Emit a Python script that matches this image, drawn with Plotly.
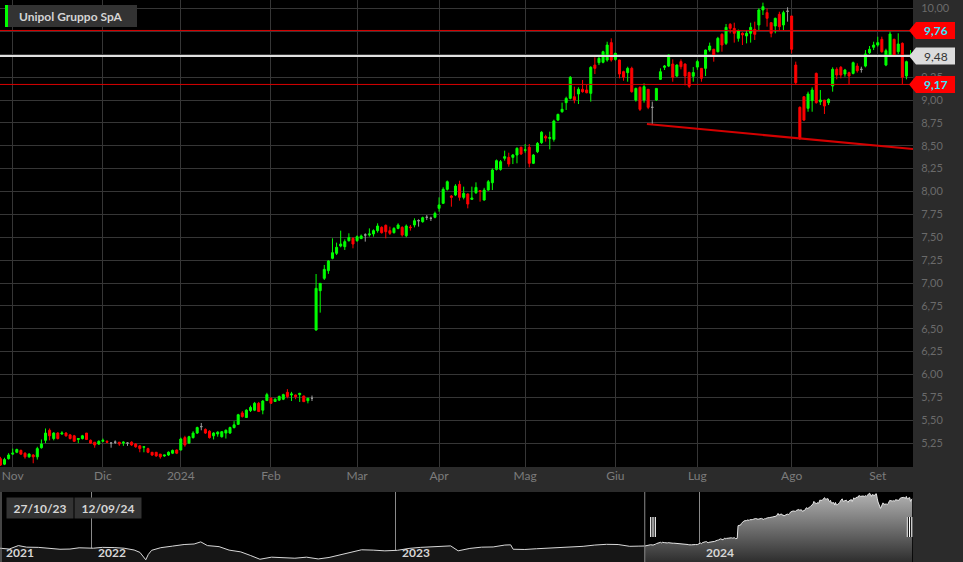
import numpy as np
import pandas as pd
import plotly.graph_objects as go

# ---------------- data ----------------
TITLE = "Unipol Gruppo SpA"
HOLIDAYS = ["2023-12-25", "2023-12-26", "2024-01-01", "2024-03-29",
            "2024-04-01", "2024-05-01", "2024-08-15"]
FIRST_DAY, LAST_DAY = "2023-10-27", "2024-09-12"

open_ = [
    5.08, 5.02, 5.08, 5.13, 5.15, 5.17, 5.14, 5.10, 5.12, 5.10,
    5.20, 5.28, 5.39, 5.30, 5.36, 5.35, 5.36, 5.34, 5.33, 5.29,
    5.30, 5.36, 5.28, 5.26, 5.24, 5.27, 5.27, 5.25, 5.26, 5.26,
    5.25, 5.25, 5.26, 5.24, 5.22, 5.205, 5.19, 5.15, 5.15, 5.13,
    5.11, 5.12, 5.14, 5.175, 5.175, 5.31, 5.25, 5.31, 5.36, 5.43,
    5.40, 5.38, 5.33, 5.35, 5.32, 5.36, 5.36, 5.42, 5.455, 5.58,
    5.53, 5.605, 5.61, 5.685, 5.61, 5.715, 5.74, 5.705, 5.72, 5.73,
    5.805, 5.776, 5.776, 5.78, 5.765, 5.714, 5.74,
    6.486, 6.916, 7.051,
    7.135, 7.270, 7.324, 7.404, 7.397, 7.463, 7.488, 7.463, 7.485, 7.525,
    7.525, 7.536, 7.572, 7.608, 7.630, 7.572, 7.550, 7.597, 7.608, 7.517,
    7.612, 7.634, 7.681, 7.670, 7.718, 7.707, 7.718, 7.816, 7.871, 8.024,
    7.951, 7.962, 8.078, 7.936, 7.973, 7.914, 7.987, 8.009, 7.907, 8.016,
    8.096, 8.242, 8.242, 8.363, 8.373, 8.373, 8.399, 8.483, 8.45, 8.483,
    8.308, 8.435, 8.534, 8.60, 8.58, 8.570, 8.781, 8.872, 8.971, 9.018,
    9.036, 9.066, 9.117, 9.109, 9.073, 9.382, 9.408, 9.412, 9.437, 9.627,
    9.444, 9.437, 9.31, 9.299, 9.346, 8.999, 9.138, 9.0, 9.117, 8.92,
    9.0, 9.226, 9.357, 9.371, 9.393, 9.262, 9.419, 9.393, 9.30, 9.26,
    9.36, 9.346, 9.346, 9.546, 9.554, 9.528, 9.718, 9.619, 9.827, 9.783,
    9.674, 9.729, 9.700, 9.729, 9.772, 9.820, 9.984, 9.955, 9.845, 9.809,
    9.936, 9.820, 9.97, 9.918, 9.382, 8.920, 9.036, 8.909, 8.993, 9.291,
    8.98, 8.999, 8.971, 9.153, 9.335, 9.357, 9.284, 9.299, 9.291, 9.371,
    9.335, 9.371, 9.517, 9.576, 9.601, 9.663, 9.382, 9.481, 9.663, 9.528,
    9.619, 9.262, 9.475,
]
high = [
    5.10, 5.09, 5.14, 5.19, 5.19, 5.18, 5.15, 5.14, 5.13, 5.21,
    5.29, 5.41, 5.41, 5.37, 5.37, 5.38, 5.37, 5.35, 5.34, 5.30,
    5.34, 5.36, 5.29, 5.26, 5.28, 5.30, 5.28, 5.26, 5.28, 5.26,
    5.27, 5.26, 5.27, 5.25, 5.23, 5.21, 5.20, 5.15, 5.15, 5.13,
    5.12, 5.16, 5.18, 5.18, 5.31, 5.33, 5.33, 5.38, 5.43, 5.47,
    5.41, 5.39, 5.37, 5.38, 5.38, 5.40, 5.43, 5.49, 5.57, 5.60,
    5.62, 5.66, 5.70, 5.70, 5.72, 5.80, 5.75, 5.74, 5.77, 5.79,
    5.84, 5.81, 5.78, 5.80, 5.77, 5.745, 5.77,
    7.098, 7.00, 7.197,
    7.25, 7.488, 7.441, 7.572, 7.477, 7.543, 7.50, 7.52, 7.53, 7.543,
    7.597, 7.586, 7.652, 7.62, 7.64, 7.616, 7.61, 7.652, 7.62, 7.64,
    7.634, 7.707, 7.696, 7.725, 7.743, 7.725, 7.780, 7.936, 8.046, 8.12,
    7.962, 8.08, 8.118, 8.053, 7.98, 8.053, 8.100, 8.016, 8.04, 8.126,
    8.253, 8.35, 8.344, 8.446, 8.424, 8.410, 8.483, 8.49, 8.519, 8.519,
    8.41, 8.54, 8.66, 8.62, 8.654, 8.785, 8.85, 8.971, 9.036, 9.262,
    9.146, 9.139, 9.219, 9.164, 9.37, 9.466, 9.492, 9.539, 9.637, 9.674,
    9.517, 9.44, 9.32, 9.364, 9.364, 9.135, 9.15, 9.182, 9.12, 8.982,
    9.13, 9.346, 9.382, 9.50, 9.444, 9.39, 9.444, 9.40, 9.31, 9.36,
    9.44, 9.35, 9.55, 9.627, 9.56, 9.69, 9.73, 9.831, 9.84, 9.845,
    9.77, 9.74, 9.765, 9.845, 9.856, 10.002, 10.064, 10.002, 9.85, 9.90,
    9.965, 9.976, 10.013, 9.92, 9.419, 8.93, 9.04, 9.091, 9.138, 9.30,
    9.109, 9.0, 9.018, 9.357, 9.357, 9.371, 9.34, 9.31, 9.42, 9.401,
    9.364, 9.546, 9.590, 9.637, 9.692, 9.692, 9.56, 9.747, 9.67, 9.729,
    9.63, 9.43, 9.546,
]
low = [
    5.00, 5.01, 5.07, 5.12, 5.14, 5.12, 5.08, 5.09, 5.03, 5.07,
    5.19, 5.25, 5.28, 5.28, 5.29, 5.34, 5.32, 5.29, 5.265, 5.25,
    5.29, 5.285, 5.24, 5.20, 5.23, 5.26, 5.25, 5.20, 5.24, 5.22,
    5.22, 5.22, 5.22, 5.20, 5.15, 5.15, 5.14, 5.11, 5.10, 5.08,
    5.10, 5.11, 5.13, 5.13, 5.17, 5.21, 5.24, 5.30, 5.35, 5.39,
    5.35, 5.30, 5.29, 5.32, 5.31, 5.30, 5.35, 5.41, 5.45, 5.53,
    5.53, 5.59, 5.60, 5.59, 5.565, 5.71, 5.68, 5.70, 5.71, 5.72,
    5.74, 5.71, 5.73, 5.70, 5.70, 5.685, 5.71,
    6.479, 6.676, 7.033,
    7.10, 7.259, 7.306, 7.390, 7.361, 7.452, 7.379, 7.45, 7.48, 7.452,
    7.507, 7.507, 7.550, 7.54, 7.488, 7.525, 7.54, 7.587, 7.507, 7.50,
    7.572, 7.608, 7.616, 7.659, 7.688, 7.678, 7.707, 7.780, 7.863, 8.01,
    7.834, 7.95, 7.900, 7.914, 7.816, 7.907, 7.973, 7.889, 7.90, 8.009,
    8.016, 8.23, 8.228, 8.337, 8.271, 8.300, 8.308, 8.40, 8.424, 8.264,
    8.30, 8.42, 8.52, 8.545, 8.461, 8.545, 8.77, 8.861, 8.891, 9.007,
    8.964, 8.956, 9.080, 9.073, 8.982, 9.284, 9.382, 9.401, 9.419, 9.419,
    9.430, 9.237, 9.21, 9.200, 9.080, 8.982, 8.88, 8.971, 8.90, 8.737,
    8.99, 9.219, 9.328, 9.36, 9.200, 9.25, 9.335, 9.160, 9.13, 9.20,
    9.33, 9.20, 9.262, 9.528, 9.419, 9.52, 9.528, 9.601, 9.729, 9.627,
    9.638, 9.601, 9.619, 9.627, 9.656, 9.765, 9.929, 9.802, 9.685, 9.729,
    9.765, 9.758, 9.856, 9.510, 9.164, 8.563, 8.77, 8.872, 8.872, 8.96,
    8.945, 8.847, 8.945, 9.091, 9.226, 9.237, 9.255, 9.175, 9.28, 9.299,
    9.299, 9.357, 9.503, 9.546, 9.583, 9.517, 9.37, 9.474, 9.47, 9.503,
    9.175, 9.226, 9.47,
]
close = [
    5.01, 5.07, 5.12, 5.14, 5.18, 5.13, 5.10, 5.13, 5.10, 5.19,
    5.24, 5.36, 5.33, 5.36, 5.30, 5.36, 5.33, 5.30, 5.27, 5.30,
    5.33, 5.29, 5.25, 5.23, 5.27, 5.28, 5.26, 5.25, 5.26, 5.24,
    5.26, 5.25, 5.23, 5.21, 5.19, 5.21, 5.15, 5.12, 5.11, 5.10,
    5.12, 5.15, 5.17, 5.14, 5.295, 5.23, 5.32, 5.36, 5.42, 5.43,
    5.36, 5.31, 5.36, 5.37, 5.375, 5.39, 5.42, 5.45, 5.56, 5.54,
    5.61, 5.64, 5.685, 5.595, 5.71, 5.78, 5.685, 5.73, 5.76, 5.78,
    5.76, 5.787, 5.758, 5.794, 5.703, 5.74, 5.74,
    6.942, 6.996, 7.149,
    7.240, 7.331, 7.390, 7.426, 7.452, 7.496, 7.426, 7.506, 7.514, 7.525,
    7.536, 7.572, 7.623, 7.550, 7.561, 7.543, 7.597, 7.634, 7.525, 7.623,
    7.605, 7.681, 7.681, 7.714, 7.718, 7.707, 7.761, 7.853, 8.024, 8.107,
    7.936, 8.060, 7.936, 7.980, 7.863, 7.929, 8.045, 8.000, 8.016, 8.107,
    8.235, 8.337, 8.326, 8.381, 8.300, 8.399, 8.472, 8.410, 8.455, 8.308,
    8.399, 8.526, 8.647, 8.585, 8.59, 8.770, 8.843, 8.898, 9.018, 9.248,
    9.0, 9.117, 9.091, 9.080, 9.357, 9.346, 9.455, 9.528, 9.601, 9.437,
    9.510, 9.284, 9.25, 9.346, 9.091, 9.127, 8.898, 9.146, 8.920, 8.92,
    9.127, 9.309, 9.371, 9.492, 9.248, 9.382, 9.364, 9.262, 9.15, 9.30,
    9.42, 9.237, 9.546, 9.590, 9.492, 9.674, 9.601, 9.794, 9.783, 9.729,
    9.758, 9.711, 9.729, 9.794, 9.718, 9.984, 10.020, 9.893, 9.729, 9.893,
    9.802, 9.955, 9.97, 9.554, 9.189, 8.581, 8.781, 9.066, 9.109, 8.971,
    9.0, 8.934, 9.007, 9.335, 9.273, 9.273, 9.328, 9.262, 9.408, 9.320,
    9.335, 9.503, 9.554, 9.601, 9.627, 9.528, 9.539, 9.721, 9.481, 9.612,
    9.248, 9.419, 9.48,
]

month_labels = ["Nov", "Dic", "2024", "Feb", "Mar", "Apr", "Mag", "Giu", "Lug", "Ago", "Set"]
y_ticks = [5.25, 5.50, 5.75, 6.00, 6.25, 6.50, 6.75, 7.00, 7.25, 7.50,
           7.75, 8.00, 8.25, 8.50, 8.75, 9.00, 9.25, 9.50, 9.75, 10.00]

level_high = 9.76
level_low = 9.17
last_price = 9.48
trend_line = [(157.7, 8.737), (222.6, 8.464)]   # (trading-day position, price)

# navigator history (before the selected window)
nav_hist_dates = [
    "2021-09-13", "2021-09-24", "2021-10-05", "2021-10-15", "2021-10-29", "2021-11-10",
    "2021-11-24", "2021-12-06", "2021-12-17", "2022-01-03", "2022-01-14", "2022-01-28",
    "2022-02-09", "2022-02-21", "2022-02-28", "2022-03-07", "2022-03-10", "2022-03-14",
    "2022-03-25", "2022-04-08", "2022-04-22", "2022-05-04", "2022-05-12", "2022-05-20",
    "2022-06-03", "2022-06-15", "2022-06-29", "2022-07-11", "2022-07-22", "2022-08-05",
    "2022-08-19", "2022-09-02", "2022-09-16", "2022-09-30", "2022-10-13", "2022-10-28",
    "2022-11-09", "2022-11-21", "2022-12-05", "2022-12-19", "2023-01-03", "2023-01-17",
    "2023-01-31", "2023-02-14", "2023-02-28", "2023-03-08", "2023-03-17", "2023-03-31",
    "2023-04-14", "2023-04-28", "2023-05-12", "2023-05-19", "2023-05-22", "2023-06-05",
    "2023-06-19", "2023-07-03", "2023-07-17", "2023-07-31", "2023-08-14", "2023-08-28",
    "2023-09-11", "2023-09-25", "2023-10-09", "2023-10-20", "2023-10-26",
]
nav_hist_values = [
    4.80, 4.72, 5.05, 4.90, 4.88, 4.82,
    4.70, 4.72, 4.84, 4.80, 4.88, 4.86,
    4.80, 4.63, 4.40, 3.70, 4.20, 4.60,
    4.85, 5.00, 5.15, 5.20, 5.40, 5.05,
    4.95, 4.62, 4.45, 4.10, 3.75, 3.95,
    3.92, 3.85, 3.95, 3.78, 3.92, 4.20,
    4.47, 4.65, 4.62, 4.55, 4.60, 4.78,
    4.88, 4.92, 5.00, 5.02, 4.55, 4.78,
    4.90, 4.92, 5.10, 5.12, 4.70, 4.68,
    4.75, 4.80, 4.88, 4.92, 4.98, 5.10,
    5.17, 5.15, 4.98, 5.00, 5.05,
]
nav_years = ["2021", "2022", "2023", "2024"]
nav_year_starts = ["2022-01-01", "2023-01-01", "2024-01-01"]
NAV_RANGE = ["2021-09-13", "2024-09-13"]

# ---------------- build ----------------
days = pd.bdate_range(FIRST_DAY, LAST_DAY)
days = days[~days.isin(pd.to_datetime(HOLIDAYS))]
dates = [d.strftime("%Y-%m-%d") for d in days][:len(close)]

o = np.array(open_); h = np.array(high); l = np.array(low); c = np.array(close)

month_first, seen = [], set()
for d in dates:
    if d[:7] not in seen:
        seen.add(d[:7]); month_first.append(d)
month_first = month_first[1:]

W, H = 963, 562
PLOT_R, PLOT_B, NAV_T = 913, 467, 492
def px(x): return x / W
def py(y): return 1 - y / H

GREEN, RED, GRAY = "#00ff00", "#ff0000", "#9a9a9a"
FONT = "Lato"

fig = go.Figure()

def add_candles(mask, inc, dec):
    idx = np.where(mask)[0]
    fig.add_trace(go.Candlestick(
        x=[dates[i] for i in idx], open=o[idx], high=h[idx], low=l[idx], close=c[idx],
        increasing=dict(line=dict(color=inc, width=1), fillcolor=inc),
        decreasing=dict(line=dict(color=dec, width=1), fillcolor=dec),
        whiskerwidth=0, hoverinfo="skip", xaxis="x", yaxis="y"))

add_candles(c > o, GREEN, GREEN)
add_candles(c < o, RED, RED)
add_candles(c == o, GRAY, GRAY)

# navigator
fig.add_trace(go.Scatter(
    x=nav_hist_dates + [dates[0]], y=nav_hist_values + [close[0]],
    mode="lines", line=dict(color="#d8d8d8", width=1), fill="tozeroy",
    fillcolor="#161616", xaxis="x2", yaxis="y2", hoverinfo="skip"))
fig.add_trace(go.Scatter(
    x=dates, y=close, mode="lines", line=dict(color="#e6e6e6", width=1),
    fill="tozeroy",
    fillgradient=dict(type="vertical", colorscale=[[0, "#2e2e2e"], [1, "#b4b4b4"]],
                      start=3.49, stop=10.14),
    xaxis="x2", yaxis="y2", hoverinfo="skip"))

shapes = []
# price levels
for val, col, wd in [(level_high, "#d80000", 1), (level_low, "#d80000", 1), (last_price, "#e0e0e0", 2)]:
    shapes.append(dict(type="line", xref="x domain", yref="y", x0=0, x1=1, y0=val, y1=val,
                       line=dict(color=col, width=wd), layer="above"))
# trend line
shapes.append(dict(type="line", xref="x", yref="y",
                   x0=trend_line[0][0], y0=trend_line[0][1], x1=trend_line[1][0], y1=trend_line[1][1],
                   line=dict(color="#d40000", width=2), layer="above"))
# title box
shapes.append(dict(type="rect", xref="paper", yref="paper", x0=px(5), x1=px(137), y0=py(27), y1=py(5),
                   fillcolor="#333333", line=dict(width=0), layer="above"))
shapes.append(dict(type="rect", xref="paper", yref="paper", x0=px(5), x1=px(8), y0=py(27), y1=py(5),
                   fillcolor=GREEN, line=dict(width=0), layer="above"))
# price flags
hh = 8.5 / 91.5
for val, bg in [(level_high, "#ff0000"), (last_price, "#dcdcdc"), (level_low, "#ff0000")]:
    path = (f"M {px(909)},{val} L {px(916)},{val + hh} L {px(955)},{val + hh} "
            f"L {px(955)},{val - hh} L {px(916)},{val - hh} Z")
    shapes.append(dict(type="path", xref="paper", yref="y", path=path,
                       fillcolor=bg, line=dict(width=0), layer="above"))
# navigator decorations
shapes.append(dict(type="line", xref="paper", yref="paper", x0=px(1), x1=px(1), y0=0, y1=py(NAV_T),
                   line=dict(color="#8a8a8a", width=1)))
shapes.append(dict(type="line", xref="x2", yref="paper", x0=dates[0], x1=dates[0], y0=0, y1=py(NAV_T),
                   line=dict(color="#8a8a8a", width=1), layer="above"))
for hx in (650, 906.5):
    shapes.append(dict(type="rect", xref="paper", yref="paper", x0=px(hx), x1=px(hx + 6.5),
                       y0=py(537), y1=py(517), fillcolor="#000000", line=dict(width=0), layer="above"))
    for k in (0.7, 3.0, 5.3):
        shapes.append(dict(type="line", xref="paper", yref="paper", x0=px(hx + k), x1=px(hx + k),
                           y0=py(537), y1=py(517), line=dict(color="#ffffff", width=1.2), layer="above"))

annotations = [
    dict(xref="paper", yref="paper", x=px(17), y=py(16), text=f"<b>{TITLE}</b>", showarrow=False,
         xanchor="left", yanchor="middle", font=dict(family=FONT, size=12, color="#d4d4d4")),
    dict(xref="paper", yref="y", x=px(936), y=level_high, text=f"<b>{level_high:.2f}</b>".replace(".", ","),
         showarrow=False, xanchor="center", yanchor="middle", font=dict(family=FONT, size=12, color="#30e8ff")),
    dict(xref="paper", yref="y", x=px(936), y=last_price, text=f"{last_price:.2f}".replace(".", ","),
         showarrow=False, xanchor="center", yanchor="middle", font=dict(family=FONT, size=12, color="#333333")),
    dict(xref="paper", yref="y", x=px(936), y=level_low, text=f"<b>{level_low:.2f}</b>".replace(".", ","),
         showarrow=False, xanchor="center", yanchor="middle", font=dict(family=FONT, size=12, color="#30e8ff")),
]
def fmt(d): return f"{d[8:10]}/{d[5:7]}/{d[2:4]}"
for cx, d in [(39.5, dates[0]), (107.5, dates[-1])]:
    annotations.append(dict(xref="paper", yref="paper", x=px(cx), y=py(507.5), text=f"<b>{fmt(d)}</b>",
                            showarrow=False, xanchor="center", yanchor="middle", bgcolor="#333333",
                            borderpad=3, width=60, height=14,
                            font=dict(family=FONT, size=12, color="#d6d6d6")))
annotations.append(dict(xref="paper", yref="paper", x=px(4), y=py(552.5), text=f"<b>{nav_years[0]}</b>",
                        showarrow=False, xanchor="left", yanchor="middle",
                        font=dict(family=FONT, size=12, color="#d6d6d6")))
for yr, ys in zip(nav_years[1:], nav_year_starts):
    annotations.append(dict(xref="x2", yref="paper", x=ys, y=py(552.5), text=f"<b>{yr}</b>",
                            showarrow=False, xanchor="left", yanchor="middle", xshift=4,
                            font=dict(family=FONT, size=12, color="#d6d6d6")))

n = len(dates)
fig.update_layout(
    width=W, height=H, margin=dict(l=0, r=0, t=0, b=0),
    paper_bgcolor="#2b2b2b", plot_bgcolor="#000000",
    showlegend=False, separators=",.", boxgap=0.3, boxgroupgap=0.3,
    font=dict(family=FONT), hovermode=False, dragmode=False,
    xaxis=dict(type="category", categoryorder="array", categoryarray=dates,
               domain=[0, px(PLOT_R)], range=[-0.1, n - 0.4], anchor="y",
               tickvals=month_first, ticktext=month_labels, ticks="",
               showgrid=True, gridcolor="#363636", gridwidth=1, zeroline=False, showline=False,
               tickfont=dict(family=FONT, size=12, color="#7c7c7c"),
               rangeslider=dict(visible=False), fixedrange=True),
    yaxis=dict(domain=[1 - PLOT_B / H, 1], range=[4.989, 10.093], side="right", anchor="x",
               tickvals=y_ticks, tickformat=".2f", ticks="outside", ticklen=5, tickcolor="#2b2b2b",
               showgrid=True, gridcolor="#363636", gridwidth=1, zeroline=False, showline=False,
               tickfont=dict(family=FONT, size=11, color="#6a6a6a"), fixedrange=True),
    xaxis2=dict(type="date", domain=[0, px(PLOT_R)], range=NAV_RANGE, anchor="y2",
                tickvals=nav_year_starts, showticklabels=False, ticks="",
                showgrid=True, gridcolor="#8a8a8a", gridwidth=1, zeroline=False, showline=False,
                fixedrange=True),
    yaxis2=dict(domain=[0, 1 - NAV_T / H], range=[3.49, 10.14], anchor="x2",
                showgrid=False, showticklabels=False, zeroline=False, showline=False,
                fixedrange=True),
    shapes=shapes, annotations=annotations,
)

fig.write_html("out.html", config={"displayModeBar": False, "staticPlot": True})

# remove the default page margin so the figure sits at the window's top-left corner
with open("out.html", "r", encoding="utf-8") as f:
    page = f.read()
page = page.replace("<head>", "<head><style>html,body{margin:0;padding:0;overflow:hidden;}</style>", 1)
with open("out.html", "w", encoding="utf-8") as f:
    f.write(page)
